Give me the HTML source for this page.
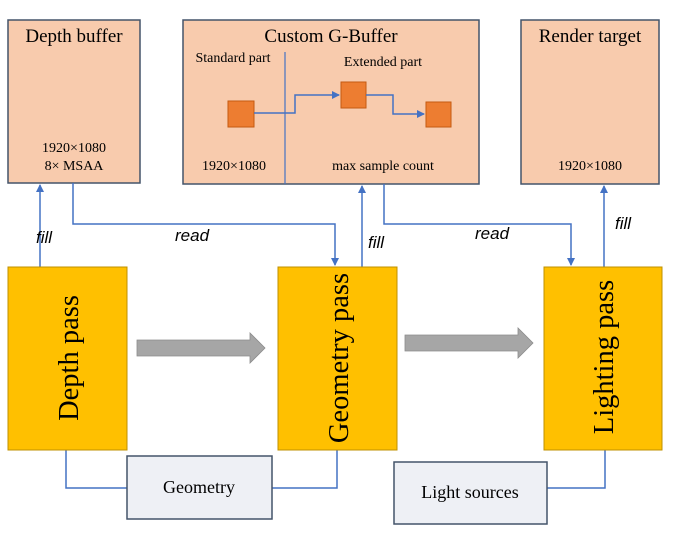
<!DOCTYPE html>
<html><head><meta charset="utf-8"><style>
body{margin:0;background:#fff;width:688px;height:539px;overflow:hidden;font-family:"Liberation Serif",serif}
</style></head><body>
<svg width="688" height="539" xmlns="http://www.w3.org/2000/svg" font-family="Liberation Serif, serif">
<defs><marker id="a" markerWidth="8" markerHeight="8" refX="7" refY="4" orient="auto" markerUnits="userSpaceOnUse"><path d="M0,0 L8,4 L0,8 z" fill="#4472c4"/></marker></defs>
<g fill="#f8cbad" stroke="#44546a" stroke-width="1.5">
<rect x="8" y="20" width="132" height="163"/>
<rect x="183" y="20" width="296" height="164"/>
<rect x="521" y="20" width="138" height="164"/>
</g>
<line x1="285" y1="52" x2="285" y2="184" stroke="#4472c4" stroke-width="1.2"/>
<text x="74" y="42" font-size="19" text-anchor="middle">Depth buffer</text>
<text x="74" y="152" font-size="14" text-anchor="middle">1920×1080</text>
<text x="74" y="170" font-size="14" text-anchor="middle">8× MSAA</text>
<text x="331" y="42" font-size="19" text-anchor="middle">Custom G-Buffer</text>
<text x="233" y="62" font-size="14" text-anchor="middle">Standard part</text>
<text x="383" y="66" font-size="14" text-anchor="middle">Extended part</text>
<text x="234" y="170" font-size="14" text-anchor="middle">1920×1080</text>
<text x="383" y="170" font-size="14" text-anchor="middle">max sample count</text>
<text x="590" y="42" font-size="19" text-anchor="middle">Render target</text>
<text x="590" y="170" font-size="14" text-anchor="middle">1920×1080</text>
<g fill="#ed7d31" stroke="#c55a11">
<rect x="228" y="101" width="26" height="26"/><rect x="341" y="82" width="25" height="26"/><rect x="426" y="102" width="25" height="25"/>
</g>
<g fill="none" stroke="#4472c4" stroke-width="1.5">
<path d="M254,113 H295 V95 H339" marker-end="url(#a)"/>
<path d="M366,95 H393 V114 H424" marker-end="url(#a)"/>
<path d="M40,267 V185" marker-end="url(#a)"/>
<path d="M73,183 V224 H335 V265" marker-end="url(#a)"/>
<path d="M362,267 V186" marker-end="url(#a)"/>
<path d="M384,184 V224 H571 V265" marker-end="url(#a)"/>
<path d="M604,267 V186" marker-end="url(#a)"/>
<path d="M66,450 V488 H127"/>
<path d="M272,488 H337 V450"/>
<path d="M547,488 H605 V450"/>
</g>
<g font-family="Liberation Sans, sans-serif" font-style="italic" font-size="17">
<text x="36" y="243">fill</text><text x="175" y="241">read</text>
<text x="368" y="248">fill</text><text x="475" y="239">read</text>
<text x="615" y="229">fill</text>
</g>
<g fill="#ffc000" stroke="#bf9000" stroke-width="1">
<rect x="8" y="267" width="119" height="183"/>
<rect x="278" y="267" width="119" height="183"/>
<rect x="544" y="267" width="118" height="183"/>
</g>
<g font-size="28.5">
<text transform="translate(78,358) rotate(-90)" text-anchor="middle">Depth pass</text>
<text transform="translate(348,358) rotate(-90)" text-anchor="middle">Geometry pass</text>
<text transform="translate(613,357) rotate(-90)" text-anchor="middle">Lighting pass</text>
</g>
<g fill="#a6a6a6" stroke="#8c8c8c" stroke-width="0.8">
<path d="M137,340 H250 V333 L265,348 L250,363 V356 H137 z"/>
<path d="M405,335 H518 V328 L533,343 L518,358 V351 H405 z"/>
</g>
<g fill="#eef0f5" stroke="#44546a" stroke-width="1.5">
<rect x="127" y="456" width="145" height="63"/>
<rect x="394" y="462" width="153" height="62"/>
</g>
<text x="199" y="493" font-size="18" text-anchor="middle">Geometry</text>
<text x="470" y="498" font-size="18" text-anchor="middle">Light sources</text>
</svg>
</body></html>
